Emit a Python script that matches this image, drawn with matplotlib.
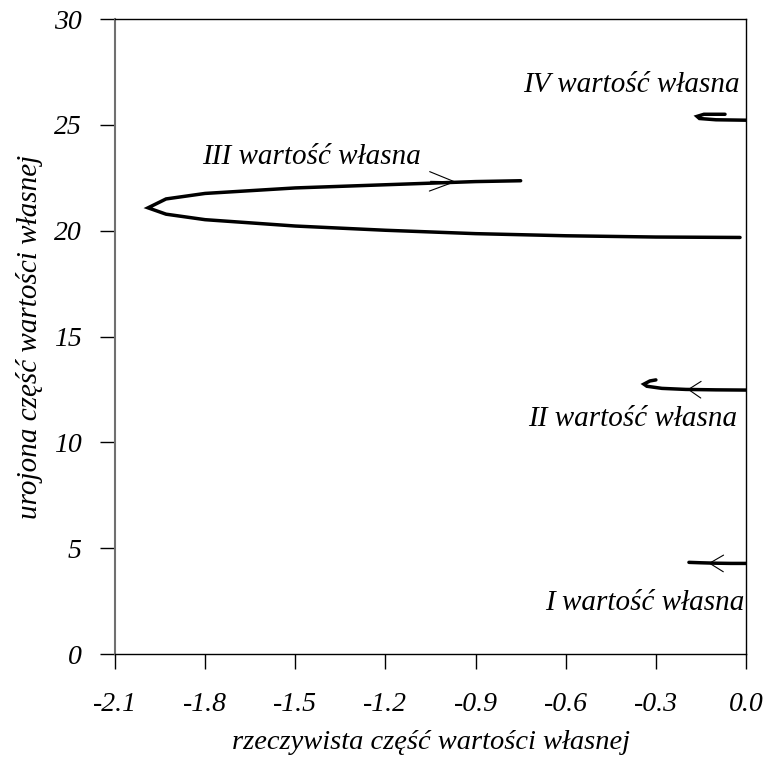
import matplotlib
matplotlib.use("Agg")
import matplotlib.pyplot as plt

plt.rcParams['font.family'] = ['Liberation Serif', 'DejaVu Serif']
plt.rcParams['font.style'] = 'italic'

# eigenvalue trajectories (real part, imaginary part)
re_I = [-0.19, -0.15, -0.10, -0.05, 0.0]
im_I = [4.33, 4.31, 4.29, 4.28, 4.28]

re_II = [-0.30, -0.32, -0.34, -0.33, -0.28, -0.20, -0.10, 0.0]
im_II = [12.95, 12.90, 12.75, 12.65, 12.55, 12.50, 12.48, 12.47]

re_III = [-0.75, -0.90, -1.20, -1.50, -1.80, -1.93, -1.99, -1.93, -1.80, -1.50,
          -1.20, -0.90, -0.60, -0.30, -0.02]
im_III = [22.36, 22.32, 22.17, 22.02, 21.76, 21.50, 21.08, 20.78, 20.52, 20.22,
          20.02, 19.86, 19.76, 19.70, 19.68]

re_IV = [-0.07, -0.14, -0.163, -0.155, -0.10, 0.0]
im_IV = [25.50, 25.50, 25.40, 25.30, 25.24, 25.22]

labels = ["I wartość własna", "II wartość własna", "III wartość własna", "IV wartość własna"]
label_pos = [(-0.005, 2.4, 'right'), (-0.03, 11.1, 'right'), (-1.81, 23.5, 'left'), (-0.742, 26.9, 'left')]

# arrows: (tip x, tip y, tail x, tail y, head length, head width)
arrows = [(-0.965, 22.31, -1.05, 22.33, 0.9, 0.35),
          (-0.195, 12.50, -0.16, 12.49, 0.45, 0.3),
          (-0.125, 4.29, -0.08, 4.28, 0.5, 0.3)]

xticks = [-2.1, -1.8, -1.5, -1.2, -0.9, -0.6, -0.3, 0.0]
yticks = [0, 5, 10, 15, 20, 25, 30]

fig = plt.figure(figsize=(7.68, 7.61), dpi=100)
ax = fig.add_axes([0.1497, 0.1406, 0.8217, 0.8344])

lw = 2.5
for xs, ys in [(re_I, im_I), (re_II, im_II), (re_III, im_III), (re_IV, im_IV)]:
    ax.plot(xs, ys, color='black', lw=lw, solid_capstyle='round', solid_joinstyle='miter')

for tx, ty, sx, sy, hl, hw in arrows:
    ax.annotate('', xy=(tx, ty), xytext=(sx, sy),
                arrowprops=dict(arrowstyle=f'->,head_length={hl},head_width={hw}',
                                color='black', lw=0.8, mutation_scale=20,
                                shrinkA=0, shrinkB=0))

for txt, (x, y, ha) in zip(labels, label_pos):
    ax.text(x, y, txt, fontsize=21, ha=ha, va='center', style='italic')

ax.set_xlim(-2.1, 0.0)
ax.set_ylim(0, 30)
ax.set_xticks(xticks)
ax.set_xticklabels([f"{v:.1f}" for v in xticks])
ax.set_yticks(yticks)
ax.set_yticklabels([str(v) for v in yticks])
ax.tick_params(direction='out', length=11, width=1.0, labelsize=20, pad=13)
ax.tick_params(axis='x', pad=16)
for lbl in ax.get_xticklabels() + ax.get_yticklabels():
    lbl.set_style('italic')
for s in ax.spines.values():
    s.set_linewidth(1.0)
ax.spines['left'].set_color('#707070')
ax.spines['left'].set_linewidth(1.5)

ax.set_xlabel("rzeczywista część wartości własnej", fontsize=20.5, labelpad=10, style='italic')
ax.set_ylabel("urojona część wartości własnej", fontsize=21, labelpad=8, style='italic')

fig.savefig("out.png", dpi=100)
